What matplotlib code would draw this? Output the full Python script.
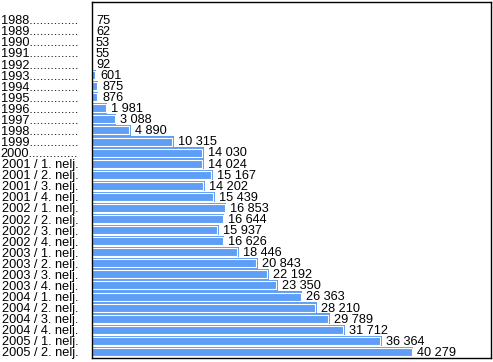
import numpy as np
import matplotlib
matplotlib.use("Agg")
import matplotlib.pyplot as plt

plt.rcParams['font.family'] = ['Liberation Sans', 'DejaVu Sans']

periods = ['1988', '1989', '1990', '1991', '1992', '1993', '1994', '1995', '1996',
           '1997', '1998', '1999', '2000']
quarters = ['2001 / 1. nelj.', '2001 / 2. nelj.', '2001 / 3. nelj.', '2001 / 4. nelj.',
            '2002 / 1. nelj.', '2002 / 2. nelj.', '2002 / 3. nelj.', '2002 / 4. nelj.',
            '2003 / 1. nelj.', '2003 / 2. nelj.', '2003 / 3. nelj.', '2003 / 4. nelj.',
            '2004 / 1. nelj.', '2004 / 2. nelj.', '2004 / 3. nelj.', '2004 / 4. nelj.',
            '2005 / 1. nelj.', '2005 / 2. nelj.']
values = [75, 62, 53, 55, 92, 601, 875, 876, 1981, 3088, 4890, 10315, 14030,
          14024, 15167, 14202, 15439, 16853, 16644, 15937, 16626, 18446, 20843,
          22192, 23350, 26363, 28210, 29789, 31712, 36364, 40279]

labels = [p + '.' * 14 for p in periods] + quarters
blue = '#5e9ef6'

fig = plt.figure(figsize=(4.93, 3.62), dpi=100)
ax = fig.add_axes([91.5 / 493, 4 / 362, 399.5 / 493, 356 / 362])

y = np.arange(len(values))
h = 0.94
ax.barh(y, values, height=h, color=blue, linewidth=0)

# thin white line drawn just inside each bar
px = 50000 / 399.5  # data units per pixel
inner = np.clip(np.array(values) - 1.6 * px, 0, None)
ax.barh(y, inner, height=h - 0.22, facecolor='none', edgecolor='white', linewidth=0.8)

for yi, v in zip(y, values):
    ax.text(v + 4 * px, yi + 0.08, f'{v:,}'.replace(',', ' '), va='center', ha='left',
            fontsize=9.2)

ax.set_xlim(0, 50000)
ax.set_ylim(30.55, -1.6)
ax.set_yticks(y)
ax.set_yticklabels(labels, fontsize=9.2)
ax.tick_params(axis='y', length=0, pad=9.5)
ax.set_xticks([])
for s in ax.spines.values():
    s.set_linewidth(1)
    s.set_color('black')

fig.savefig('out.png', dpi=100)
